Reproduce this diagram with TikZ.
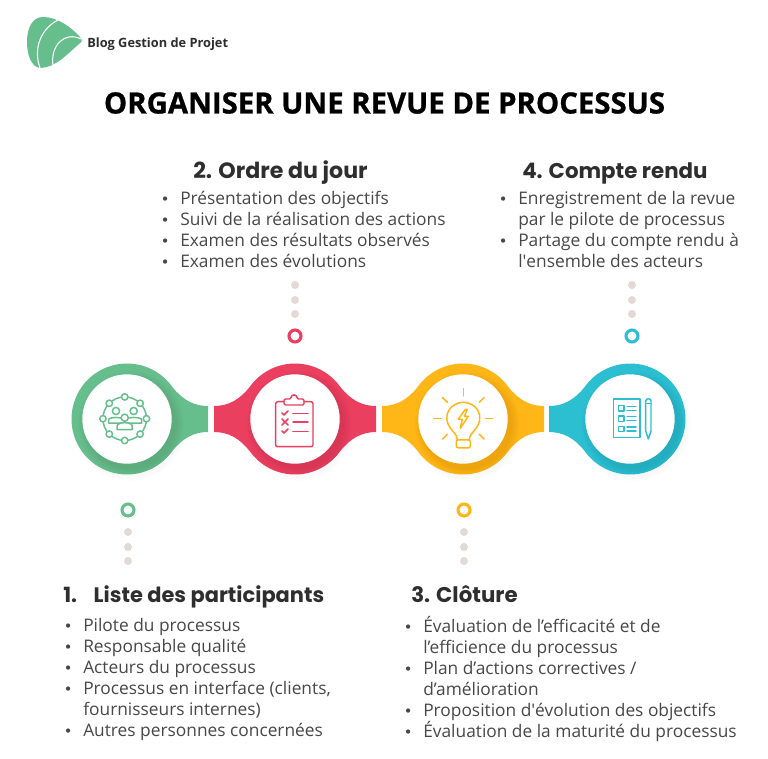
\documentclass[tikz,border=0pt]{standalone}
\usepackage{fontspec}
\setmainfont{Open Sans}
\newfontfamily\headfont{Poppins}
\newfontfamily\titlefont{Open Sans}[BoldFeatures={FakeBold=0.8}]
\newfontfamily\bulfont{DejaVu Sans}
\usetikzlibrary{positioning}
\definecolor{hubgreen}{HTML}{66BE8D}
\definecolor{hubred}{HTML}{EB3F5F}
\definecolor{hubyellow}{HTML}{FFB616}
\definecolor{hubteal}{HTML}{2CBFD2}
\definecolor{dotgray}{HTML}{E2DAD5}
\definecolor{headink}{HTML}{2E2E2E}
\definecolor{bodyink}{HTML}{474747}
\tikzset{
  heading/.style={anchor=base west, inner sep=0pt, text=headink, font=\headfont\bfseries\fontsize{16}{16}\selectfont},
  itemlist/.style={anchor=north west, inner sep=0pt, align=left, text=bodyink, font=\fontsize{13}{15.7}\selectfont},
  icon/.style={line width=1.1pt, line cap=round, line join=round},
  stopring/.style={circle, draw=#1, line width=2.3pt, minimum size=9pt, inner sep=0pt},
  graydot/.style={circle, fill=dotgray, minimum size=6pt, inner sep=0pt},
}
\newcommand{\bul}{\leavevmode\llap{{\bulfont\fontsize{11}{11}\selectfont\textbullet}\hspace{8pt}}}
\def\tabR{.. controls (55,-20) and (66,-13) .. (81,-13) -- (81,13) .. controls (66,13) and (55,20) .. (45.46,31.83)}
\def\arcR{arc (325:395:55.5)}
\def\tabL{.. controls (-55,20) and (-66,13) .. (-81,13) -- (-81,-13) .. controls (-66,-13) and (-55,-20) .. (-45.46,-31.83)}
\def\arcL{arc (145:215:55.5)}
\begin{document}
\begin{tikzpicture}[x=0.75pt, y=-0.75pt]
  \useasboundingbox (0,0) rectangle (768,758);

  % logo
  \fill[hubgreen] (40,68) .. controls (31,67) and (27,54) .. (27,42)
    .. controls (27,27) and (33,17) .. (43,17)
    .. controls (58,17) and (72,28) .. (80,37)
    .. controls (83,40) and (82,42) .. (79,44)
    .. controls (67,54) and (57,67) .. (40,68) -- cycle;
  \draw[white, line width=.8pt] (58,20) .. controls (44,27) and (32,45) .. (40,68);
  \draw[white, line width=.8pt] (81,39) .. controls (65,31) and (50,45) .. (53,66);
  \node[anchor=base west, inner sep=0pt, text=headink, font=\bfseries\fontsize{9.6}{10}\selectfont] (logotext) at (87,47) {Blog Gestion de Projet};

  \node[inner sep=0pt, text=black, font=\titlefont\bfseries\fontsize{22}{22}\selectfont] (title) at (384.5,103) {ORGANISER UNE REVUE DE PROCESSUS};

  % hubs
  \foreach \cx/\col/\lside/\rside in {127/hubgreen/\arcL/\tabR, 295/hubred/\tabL/\tabR, 463/hubyellow/\tabL/\tabR, 630/hubteal/\tabL/\arcR} {
    \begin{scope}[shift={(\cx,419)}]
      \foreach \r in {55,56.5,58}
        \fill[black, opacity=.008] (3,4) circle[radius=\r];
      \fill[\col] (-45.46,-31.83) arc (215:325:55.5) \rside arc (35:145:55.5) \lside -- cycle;
      \begin{scope}
        \clip (-45.46,-31.83) arc (215:325:55.5) \rside arc (35:145:55.5) \lside -- cycle;
        \foreach \r in {45,46,...,53}
          \fill[black, opacity=.009] (4,5) circle[radius=\r];
      \end{scope}
      \fill[white] (0,0) circle[radius=44.7];
    \end{scope}
  }

  % people icon
  \begin{scope}[shift={(124.7,418.7)}, hubgreen, icon]
    \draw (0,0) circle[radius=21.8];
    \foreach \a in {0,45,...,315}
      \filldraw[fill=white] (\a:21.8) circle[radius=3.2];
    \filldraw[fill=white] (-8.7,-7.7) circle[radius=3.6] (9,-7.7) circle[radius=3.6];
    \filldraw[fill=white] (-16,4.5) -- (-16,1) .. controls (-16,-2) and (-2,-2) .. (-1,1) -- (1,1) .. controls (2,-2) and (16,-2) .. (17,1) -- (17,4.5) -- cycle;
    \filldraw[fill=white] (0,-1) circle[radius=3.6];
    \filldraw[fill=white] (-7.5,11) -- (-7.5,7) .. controls (-7,3) and (7,3) .. (7.5,7) -- (7.5,11) -- cycle;
  \end{scope}

  % clipboard icon
  \begin{scope}[hubred, icon]
    \draw[rounded corners=1.5pt] (284,401.7) -- (275.7,401.7) -- (275.7,446.7) -- (313,446.7) -- (313,401.7) -- (304,401.7);
    \draw[rounded corners=1pt] (284,405) -- (284,399) -- (291,399) .. controls (291,394) and (297,394) .. (297,399) -- (304,399) -- (304,405) -- cycle;
    \draw (282,413) -- (284,415) -- (288,411);
    \draw (282,419) -- (288,425) (288,419) -- (282,425);
    \draw (282,431) -- (284,433) -- (288,429);
    \draw[line width=1.4pt] (293,413.5) -- (308,413.5);
    \draw (293,422) -- (308,422);
    \draw[line width=1.4pt] (293,431.5) -- (308,431.5);
  \end{scope}

  % bulb icon
  \begin{scope}[shift={(463.3,418.3)}, hubyellow, icon]
    \draw (-6,22) .. controls (-6,17) and (-9,15) .. (-12,11) .. controls (-23,-3) and (-12,-16) .. (0,-16) .. controls (12,-16) and (23,-3) .. (12,11) .. controls (9,15) and (6,17) .. (6,22);
    \draw[rounded corners=1.5pt] (-7,21.5) rectangle (7,29.5);
    \draw (2,-9) -- (-5,1) -- (-1,1) -- (-3,10) -- (5,-2) -- (1,-2) -- (4,-9) -- cycle;
    \foreach \a in {-90,-45,0,45,180,135,225}
      \draw (\a:22.5) -- (\a:29.5);
  \end{scope}

  % checklist icon
  \begin{scope}[hubteal, icon]
    \draw (613.3,399) rectangle (640,437.7);
    \foreach \ly in {408.3,418.6,429} {
      \draw (618.3,\ly-2.7) rectangle (624,\ly+2.7);
      \draw (627,\ly-2) -- (636,\ly-2) (627,\ly+2) -- (636,\ly+2);
    }
    \draw (645.7,431) -- (645.7,401) .. controls (645.7,398) and (651,398) .. (651,401) -- (651,431) -- (648.3,439) -- cycle;
    \draw (645.7,403.5) -- (651,403.5);
  \end{scope}

  % dots
  \node[stopring=hubgreen] (stopa) at (128,510) {};
  \node[stopring=hubred] (stopb) at (295,336) {};
  \node[stopring=hubyellow] (stopc) at (464,510) {};
  \node[stopring=hubteal] (stopd) at (632,336) {};
  \foreach \y in {532,547,561} {
    \node[graydot] at (128,\y) {};
    \node[graydot] at (464,\y) {};
  }
  \foreach \y in {285,300,314} {
    \node[graydot] at (295,\y) {};
    \node[graydot] at (632,\y) {};
  }

  % texts
  \node[heading, font=\headfont\bfseries\fontsize{15.7}{16}\selectfont] (heada) at (63,602) {1.\hspace{12.5pt}Liste des participants};
  \node[heading, font=\headfont\bfseries\fontsize{16.6}{16}\selectfont] (headb) at (193,178) {2. Ordre du jour};
  \node[heading] (headc) at (411,602) {3. Clôture};
  \node[heading] (headd) at (522,178) {4. Compte rendu};

  \node[itemlist] (lista) at (83,618) {\bul Pilote du processus\\ \bul Responsable qualité\\ \bul Acteurs du processus\\ \bul Processus en interface (clients,\\ fournisseurs internes)\\ \bul Autres personnes concernées};
  \node[itemlist] (listb) at (180,191) {\bul Présentation des objectifs\\ \bul Suivi de la réalisation des actions\\ \bul Examen des résultats observés\\ \bul Examen des évolutions};
  \node[itemlist] (listc) at (423,616) {\bul Évaluation de l’efficacité et de\\ l’efficience du processus\\ \bul Plan d’actions correctives /\\ d’amélioration\\ \bul Proposition d\textquotesingle évolution des objectifs\\ \bul Évaluation de la maturité du processus};
  \node[itemlist] (listd) at (518,191) {\bul Enregistrement de la revue\\ par le pilote de processus\\ \bul Partage du compte rendu à\\ l\textquotesingle ensemble des acteurs};
\end{tikzpicture}
\end{document}
